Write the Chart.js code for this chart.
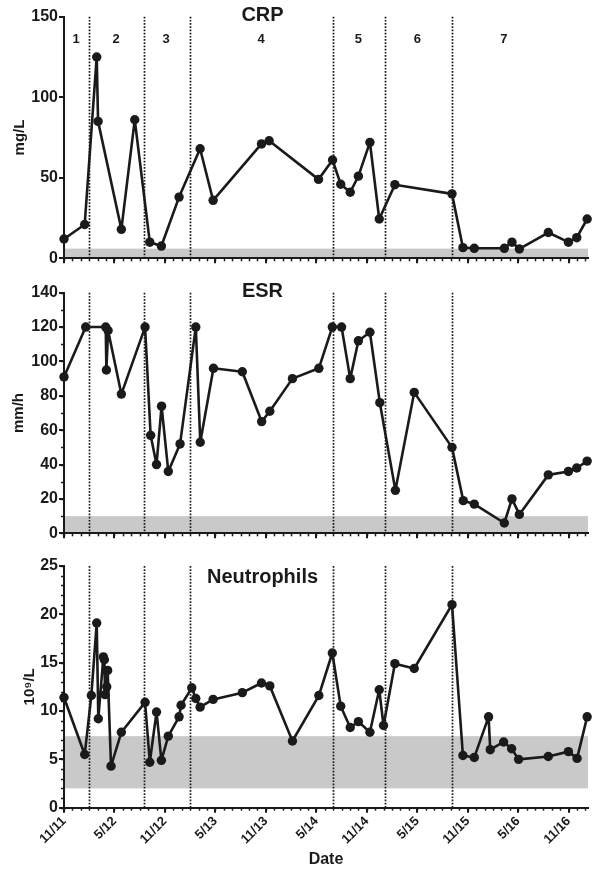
<!DOCTYPE html>
<html>
<head>
<meta charset="utf-8">
<script src="https://cdn.jsdelivr.net/npm/chart.js@4.4.1/dist/chart.umd.min.js"></script>
<style>
  body { margin: 0; background: #fff; width: 595px; height: 869px; position: relative; overflow: hidden; }
  canvas { position: absolute; left: 0; }
</style>
</head>
<body>
<canvas id="cCrp" width="595" height="272" style="top:0px"></canvas>
<canvas id="cEsr" width="595" height="272" style="top:272px"></canvas>
<canvas id="cNeu" width="595" height="325" style="top:544px"></canvas>
<script>
// x values are months since Nov 2011
const xMax = 62.3;
const dateTicks = ['11/11', '5/12', '11/12', '5/13', '11/13', '5/14', '11/14', '5/15', '11/15', '5/16', '11/16'];

// treatment phases
const phaseBounds = [3, 9.5, 15, 32, 38.2, 46.1];
const phaseNames  = ['1', '2', '3', '4', '5', '6', '7'];
const phaseMid    = [1.45, 6.2, 12.15, 23.45, 35.0, 42.0, 52.3];

// CRP (mg/L)
const crpMonths = [0, 2.46, 3.89, 4.05, 6.82, 8.41, 10.2, 11.58, 13.68, 16.18, 17.73, 23.48, 24.39,
  30.26, 31.93, 32.9, 34.03, 35.0, 36.37, 37.48, 39.34, 46.13, 47.43, 48.78, 52.35, 53.26, 54.14,
  57.58, 59.97, 60.96, 62.2];
const crpValues = [12, 21, 125, 85, 18, 86, 10, 7.6, 38, 68, 36, 71, 73,
  49, 61, 46, 41, 51, 72, 24.4, 45.7, 40, 6.6, 6.2, 6.2, 10, 5.8,
  16, 10, 12.8, 24.4];
const crpNormal = [0, 6];

// ESR (mm/h)
const esrMonths = [0, 2.58, 4.96, 5.04, 5.24, 6.82, 9.64, 10.3, 11.0, 11.6, 12.4, 13.8,
  15.67, 16.2, 17.77, 21.2, 23.5, 24.47, 27.16, 30.3, 31.9, 33.0, 34.03, 35.0, 36.37, 37.55,
  39.4, 41.64, 46.13, 47.47, 48.78, 52.35, 53.26, 54.14, 57.58, 59.97, 60.96, 62.2];
const esrValues = [91, 120, 120, 95, 118, 81, 120, 57, 40, 74, 36, 52,
  120, 53, 96, 94, 65, 71, 90, 96, 120, 120, 90, 112, 117, 76,
  25, 82, 50, 19, 17, 6, 20, 11, 34, 36, 38, 42];
const esrNormal = [0, 10];

// Neutrophils (10^9/L)
const neuMonths = [0, 2.46, 3.25, 3.89, 4.08, 4.68, 4.8, 4.88, 5.08, 5.19, 5.59,
  6.82, 9.64, 10.2, 11.0, 11.58, 12.4, 13.68, 13.92, 15.19, 15.67, 16.18, 17.73,
  21.2, 23.48, 24.47, 27.16, 30.3, 31.9, 32.9, 34.03, 35.0, 36.37, 37.48, 37.99,
  39.34, 41.64, 46.13, 47.43, 48.78, 50.48, 50.68, 52.27, 53.22, 54.05, 57.58, 59.97, 61.0, 62.2];
const neuValues = [11.4, 5.5, 11.6, 19.1, 9.2, 15.6, 15.3, 11.7, 12.5, 14.2, 4.3,
  7.8, 10.9, 4.7, 9.9, 4.9, 7.4, 9.4, 10.6, 12.4, 11.3, 10.4, 11.2,
  11.9, 12.9, 12.6, 6.9, 11.6, 16.0, 10.5, 8.3, 8.9, 7.8, 12.2, 8.5,
  14.9, 14.4, 21.0, 5.4, 5.2, 9.4, 6.0, 6.8, 6.1, 5.0, 5.3, 5.8, 5.1, 9.4];
const neuNormal = [2.0, 7.4];

const INK = '#1a1a1a';
const FONT = 'Liberation Sans, Arial, sans-serif';

function makePanel(id, p) {
  const deco = {
    id: 'deco',
    beforeDraw(chart) {
      const { ctx, chartArea: a, scales: { x, y } } = chart;
      ctx.save();
      // normal range
      const yt = y.getPixelForValue(p.band[1]);
      const yb = Math.min(y.getPixelForValue(p.band[0]), a.bottom - 1);
      ctx.fillStyle = '#c9c9c9';
      ctx.fillRect(a.left + 1, yt, a.right - a.left - 1, yb - yt);
      // phase separators
      ctx.strokeStyle = INK;
      ctx.lineWidth = 1.7;
      ctx.setLineDash([1.7, 1.5]);
      phaseBounds.forEach(m => {
        const px = Math.round(x.getPixelForValue(m)) + 0.5;
        ctx.beginPath();
        ctx.moveTo(px, a.top);
        ctx.lineTo(px, a.bottom);
        ctx.stroke();
      });
      ctx.setLineDash([]);
      // minor ticks
      ctx.lineWidth = 1.5;
      for (let m = 0; m <= Math.floor(xMax); m++) {
        const px = Math.round(x.getPixelForValue(m)) + 0.5;
        ctx.beginPath();
        ctx.moveTo(px, a.bottom);
        ctx.lineTo(px, a.bottom + 3);
        ctx.stroke();
      }
      if (p.yMinor) {
        for (let v = 0; v <= p.yMax; v += p.yMinor) {
          const py = Math.round(y.getPixelForValue(v)) + 0.5;
          ctx.beginPath();
          ctx.moveTo(a.left, py);
          ctx.lineTo(a.left - 3, py);
          ctx.stroke();
        }
      }
      ctx.restore();
    },
    afterDraw(chart) {
      const { ctx, chartArea: a, scales: { x } } = chart;
      ctx.save();
      ctx.fillStyle = INK;
      ctx.textAlign = 'center';
      ctx.textBaseline = 'middle';
      ctx.font = 'bold 20px ' + FONT;
      ctx.fillText(p.title, 262.5, a.top + p.titleDy);
      if (p.phases) {
        ctx.font = 'bold 13px ' + FONT;
        phaseNames.forEach((t, i) => ctx.fillText(t, x.getPixelForValue(phaseMid[i]), a.top + 23));
      }
      ctx.restore();
    }
  };

  new Chart(document.getElementById(id), {
    type: 'line',
    data: {
      datasets: [{
        data: p.months.map((m, i) => ({ x: m, y: p.values[i] })),
        borderColor: INK,
        backgroundColor: INK,
        borderWidth: 2.6,
        borderJoinStyle: 'round',
        borderCapStyle: 'round',
        pointRadius: 4.7,
        pointBorderWidth: 0,
        pointBackgroundColor: INK,
        tension: 0,
        clip: false
      }]
    },
    options: {
      responsive: false,
      animation: false,
      events: [],
      layout: { padding: { top: p.top, right: 7, left: 0, bottom: 0 } },
      plugins: { legend: { display: false }, tooltip: { enabled: false } },
      scales: {
        x: {
          type: 'linear',
          min: 0,
          max: xMax,
          afterFit: s => { s.height = p.xh; },
          ticks: {
            stepSize: 6,
            autoSkip: false,
            includeBounds: false,
            maxRotation: 45,
            minRotation: 45,
            padding: 1,
            color: INK,
            font: { family: FONT, weight: 'bold', size: 13 },
            callback: v => p.dates ? dateTicks[Math.round(v / 6)] : ''
          },
          grid: { drawOnChartArea: false, tickLength: 5, color: INK, lineWidth: 2 },
          border: { color: INK, width: 2 },
          title: {
            display: !!p.dates,
            text: 'Date',
            color: INK,
            padding: { top: 0, bottom: 0 },
            font: { family: FONT, weight: 'bold', size: 16 }
          }
        },
        y: {
          min: 0,
          max: p.yMax,
          afterFit: s => { s.width = 64; },
          ticks: {
            stepSize: p.yStep,
            padding: 1,
            color: INK,
            font: { family: FONT, weight: 'bold', size: 16 }
          },
          grid: { drawOnChartArea: false, tickLength: 5, color: INK, lineWidth: 2 },
          border: { color: INK, width: 2 },
          title: {
            display: true,
            text: p.yTitle,
            color: INK,
            padding: { top: p.yTitlePad, bottom: 0 },
            font: { family: FONT, weight: 'bold', size: 15 }
          }
        }
      }
    },
    plugins: [deco]
  });
}

makePanel('cCrp', {
  months: crpMonths, values: crpValues, band: crpNormal,
  yMax: 150, yStep: 50, yMinor: 0, yTitle: 'mg/L', yTitlePad: 11,
  title: 'CRP', titleDy: -1.5, phases: true, top: 16.7, xh: 13.7
});
makePanel('cEsr', {
  months: esrMonths, values: esrValues, band: esrNormal,
  yMax: 140, yStep: 20, yMinor: 10, yTitle: 'mm/h', yTitlePad: 10,
  title: 'ESR', titleDy: -1.5, phases: false, top: 20.7, xh: 10.7
});
makePanel('cNeu', {
  months: neuMonths, values: neuValues, band: neuNormal,
  yMax: 25, yStep: 5, yMinor: 1, yTitle: '10⁹/L', yTitlePad: 21,
  title: 'Neutrophils', titleDy: 11, phases: false, top: 22, xh: 61.3, dates: true
});
</script>
</body>
</html>
